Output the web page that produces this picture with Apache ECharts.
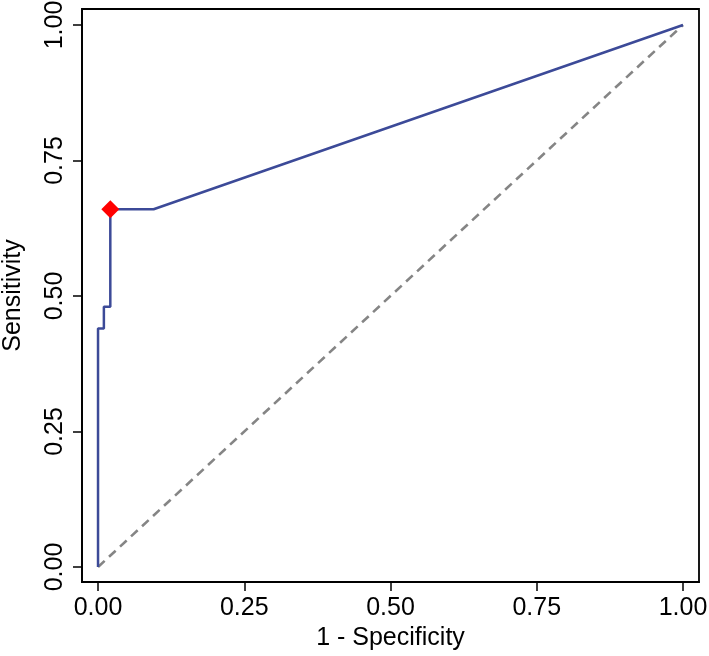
<!DOCTYPE html>
<html>
<head>
<meta charset="utf-8">
<script src="https://cdn.jsdelivr.net/npm/echarts@6/dist/echarts.min.js"></script>
<style>
html,body{margin:0;padding:0;background:#fff;}
#chart{width:709px;height:656px;}
</style>
</head>
<body>
<div id="chart"></div>
<script>
// ROC curve points (1 - Specificity, Sensitivity)
var rocFpr = [0, 0, 0.01, 0.01, 0.021, 0.021, 0.095, 1];
var rocTpr = [0, 0.44, 0.44, 0.48, 0.48, 0.66, 0.66, 1];
// Optimal cut-off point
var optFpr = [0.021];
var optTpr = [0.66];
// Reference (chance) diagonal
var diagX = [0, 1];
var diagY = [0, 1];
// Tick values / labels
var tickValues = [0, 0.25, 0.5, 0.75, 1];
var tickLabels = ['0.00', '0.25', '0.50', '0.75', '1.00'];

function pairs(xs, ys) { return xs.map(function (x, i) { return [x, ys[i]]; }); }

var font = 'Liberation Sans, Arial, Helvetica, sans-serif';
var chart = echarts.init(document.getElementById('chart'));
chart.setOption({
  animation: false,
  backgroundColor: '#ffffff',
  grid: {
    left: 82, right: 10, top: 9, bottom: 74,
    outerBoundsMode: 'none', containLabel: false,
    show: true, borderColor: '#000', borderWidth: 1.8, backgroundColor: 'transparent'
  },
  xAxis: {
    type: 'value', min: -0.0274, max: 1.0274,
    name: '1 - Specificity', nameLocation: 'middle', nameGap: 40,
    nameTextStyle: { fontFamily: font, fontSize: 25, color: '#000' },
    axisLine: { show: true, onZero: false, lineStyle: { color: '#000', width: 1.8 } },
    axisTick: { show: true, inside: false, length: 9, lineStyle: { color: '#000', width: 1.5 }, customValues: tickValues },
    axisLabel: {
      customValues: tickValues, margin: 14,
      fontFamily: font, fontSize: 25, color: '#000',
      formatter: function (v) { var i = tickValues.indexOf(v); return i >= 0 ? tickLabels[i] : ''; }
    },
    splitLine: { show: false }
  },
  yAxis: {
    type: 'value', min: -0.0277, max: 1.0295,
    name: 'Sensitivity', nameLocation: 'middle', nameGap: 56,
    nameTextStyle: { fontFamily: font, fontSize: 25, color: '#000' },
    axisLine: { show: true, onZero: false, lineStyle: { color: '#000', width: 1.8 } },
    axisTick: { show: true, inside: false, length: 9, lineStyle: { color: '#000', width: 1.5 }, customValues: tickValues },
    axisLabel: {
      customValues: tickValues, margin: 14, rotate: 90,
      fontFamily: font, fontSize: 25, color: '#000',
      formatter: function (v) { var i = tickValues.indexOf(v); return i >= 0 ? tickLabels[i] : ''; }
    },
    splitLine: { show: false }
  },
  series: [
    {
      type: 'line', name: 'Chance', data: pairs(diagX, diagY),
      symbol: 'none', silent: true,
      lineStyle: { color: '#858585', width: 2.6, type: [9, 6] }
    },
    {
      type: 'line', name: 'ROC', data: pairs(rocFpr, rocTpr),
      symbol: 'none', silent: true,
      lineStyle: { color: '#3C4A98', width: 2.5 }
    },
    {
      type: 'scatter', name: 'Optimal', data: pairs(optFpr, optTpr),
      symbol: 'diamond', symbolSize: 18, z: 5,
      itemStyle: { color: '#FF0000', opacity: 1 }
    }
  ]
});
</script>
</body>
</html>
